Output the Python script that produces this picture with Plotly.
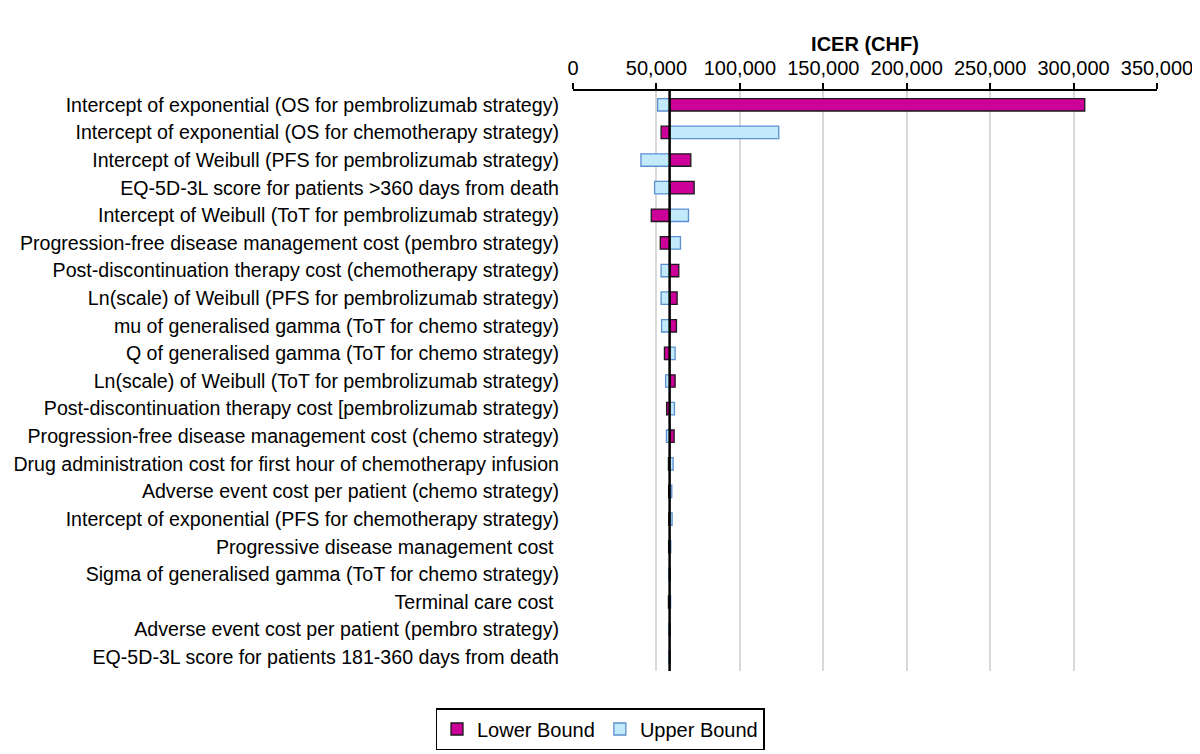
import plotly.graph_objects as go

parameters = [
    "Intercept of exponential (OS for pembrolizumab strategy)",
    "Intercept of exponential (OS for chemotherapy strategy)",
    "Intercept of Weibull (PFS for pembrolizumab strategy)",
    "EQ-5D-3L score for patients >360 days from death",
    "Intercept of Weibull (ToT for pembrolizumab strategy)",
    "Progression-free disease management cost (pembro strategy)",
    "Post-discontinuation therapy cost (chemotherapy strategy)",
    "Ln(scale) of Weibull (PFS for pembrolizumab strategy)",
    "mu of generalised gamma (ToT for chemo strategy)",
    "Q of generalised gamma (ToT for chemo strategy)",
    "Ln(scale) of Weibull (ToT for pembrolizumab strategy)",
    "Post-discontinuation therapy cost [pembrolizumab strategy)",
    "Progression-free disease management cost (chemo strategy)",
    "Drug administration cost for first hour of chemotherapy infusion",
    "Adverse event cost per patient (chemo strategy)",
    "Intercept of exponential (PFS for chemotherapy strategy)",
    "Progressive disease management cost\u00a0",
    "Sigma of generalised gamma (ToT for chemo strategy)",
    "Terminal care cost\u00a0",
    "Adverse event cost per patient (pembro strategy)",
    "EQ-5D-3L score for patients 181-360 days from death",
]

base_icer = 57900

lower_bound = [306700, 52800, 70600, 72600, 46900, 52300, 63400, 62400, 62000, 54800,
               61200, 56100, 60600, 57200, 57300, 57400, 57300, 58300, 57200, 58200, 58100]
upper_bound = [50700, 123300, 40700, 48900, 69200, 64400, 52800, 52800, 53100, 61200,
               55500, 60800, 56000, 60000, 59200, 59400, 58600, 57400, 58500, 57400, 57500]

x_ticks = [0, 50000, 100000, 150000, 200000, 250000, 300000, 350000]

FONT = "Liberation Sans, Arial, sans-serif"

fig = go.Figure()
fig.add_trace(go.Bar(
    name="Lower Bound", y=parameters, x=[v - base_icer for v in lower_bound], base=base_icer,
    orientation="h", marker=dict(color="#CC0099", line=dict(color="#1a1a1a", width=1.3)),
))
fig.add_trace(go.Bar(
    name="Upper Bound", y=parameters, x=[v - base_icer for v in upper_bound], base=base_icer,
    orientation="h", marker=dict(color="#C2EAFB", line=dict(color="#5B8FD0", width=1.3)),
))

fig.add_shape(type="line", xref="x", yref="paper", x0=base_icer, x1=base_icer, y0=0, y1=1,
              line=dict(color="black", width=2.5), layer="above")

fig.update_layout(
    width=1200, height=754,
    margin=dict(l=565, r=51, t=83, b=91),
    paper_bgcolor="white", plot_bgcolor="white",
    barmode="overlay", bargap=0.55,
    font=dict(family=FONT, size=20, color="#000000"),
    showlegend=True,
    legend=dict(orientation="h", xref="container", yref="container",
                x=592 / 1200, xanchor="center", y=1 - 700 / 754, yanchor="top",
                bordercolor="black", borderwidth=1.5, font=dict(size=20, family=FONT),
                traceorder="normal", itemwidth=30),
    xaxis=dict(
        side="top", range=[0, 350000], tickvals=x_ticks, tickformat=",",
        showline=True, linecolor="black", linewidth=2,
        ticks="outside", ticklen=6, tickwidth=2, tickcolor="black",
        showgrid=True, gridcolor="#D9D9D9", gridwidth=1.5, zeroline=False,
        tickfont=dict(size=20, family=FONT), automargin=False, ticklabelstandoff=0,
        title=dict(text="<b>ICER (CHF)</b>", font=dict(size=20, family=FONT), standoff=0),
    ),
    yaxis=dict(
        type="category", autorange="reversed", showline=False, showgrid=False, ticks="",
        tickfont=dict(size=19.6, family=FONT), ticklabelstandoff=13, automargin=False,
    ),
)

fig.write_html("out.html")
